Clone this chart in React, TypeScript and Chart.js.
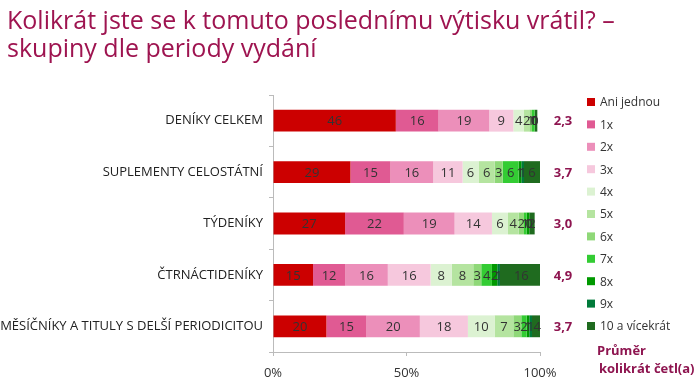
import React, { useEffect, useRef } from "react";
import { Chart, registerables } from "chart.js";

Chart.register(...registerables);

const titleLines = [
  "Kolikrát jste se k tomuto poslednímu výtisku vrátil? –",
  "skupiny dle periody vydání",
];

const categories = [
  "DENÍKY CELKEM",
  "SUPLEMENTY CELOSTÁTNÍ",
  "TÝDENÍKY",
  "ČTRNÁCTIDENÍKY",
  "MĚSÍČNÍKY A TITULY S DELŠÍ PERIODICITOU",
];

const seriesNames = ["Ani jednou", "1x", "2x", "3x", "4x", "5x", "6x", "7x", "8x", "9x", "10 a vícekrát"];
const seriesColors = [
  "#CC0000", "#E05A93", "#EC8FBA", "#F6C8DD", "#DCF2D2",
  "#B5E4A0", "#8FD878", "#33CC33", "#009900", "#007A3A", "#1F6B1F",
];

const aniJednou = [46, 29, 27, 15, 20];
const x1 = [16, 15, 22, 12, 15];
const x2 = [19, 16, 19, 16, 20];
const x3 = [9, 11, 14, 16, 18];
const x4 = [4, 6, 6, 8, 10];
const x5 = [2, 6, 4, 8, 7];
const x6 = [1, 3, 2, 3, 3];
const x7 = [1, 6, 1, 4, 2];
const x8 = [0, 1, 1, 2, 1];
const x9 = [0, 1, 0, 1, 1];
const x10plus = [1, 6, 2, 16, 4];
const averages = ["2,3", "3,7", "3,0", "4,9", "3,7"];
const xTicks = [0, 50, 100];

const seriesValues = [aniJednou, x1, x2, x3, x4, x5, x6, x7, x8, x9, x10plus];

const FONT = "'Open Sans', 'Noto Sans', sans-serif";
const ACCENT = "#9E1450";

const overlayPlugin = {
  id: "overlay",
  afterDatasetsDraw(chart: any) {
    const ctx = chart.ctx;
    const area = chart.chartArea;
    ctx.save();
    // segment labels
    ctx.font = `13px ${FONT}`;
    ctx.fillStyle = "#333";
    ctx.textAlign = "center";
    ctx.textBaseline = "middle";
    chart.data.datasets.forEach((ds: any, di: number) => {
      const meta = chart.getDatasetMeta(di);
      meta.data.forEach((bar: any, i: number) => {
        const { x, base, y } = bar.getProps(["x", "base", "y"], true);
        ctx.fillText(String(ds.data[i]), (x + base) / 2, y + 1);
      });
    });
    // x tick labels
    const xScale = chart.scales.x;
    ctx.fillStyle = "#333";
    xTicks.forEach((v) => {
      ctx.fillText(v + "%", xScale.getPixelForValue(v), area.bottom + 21);
    });
    // averages
    const yScale = chart.scales.y;
    ctx.font = `bold 13px ${FONT}`;
    ctx.fillStyle = "#8E1550";
    averages.forEach((a, i) => {
      ctx.fillText(a, area.right + 23, yScale.getPixelForValue(i) + 1);
    });
    // legend
    ctx.textAlign = "left";
    ctx.font = `12px ${FONT}`;
    chart.data.datasets.forEach((ds: any, di: number) => {
      const ly = 102 + di * 22.4;
      ctx.fillStyle = ds.backgroundColor;
      ctx.fillRect(587, ly - 4, 8, 8);
      ctx.fillStyle = "#333";
      ctx.fillText(ds.label, 600, ly + 1);
    });
    // average caption
    ctx.font = `bold 13px ${FONT}`;
    ctx.fillStyle = "#8E1550";
    ctx.fillText("Průměr", 597, 351);
    ctx.fillText("kolikrát četl(a)", 599, 369);
    // title
    ctx.font = `25px ${FONT}`;
    ctx.fillStyle = ACCENT;
    ctx.textBaseline = "alphabetic";
    ctx.fillText(titleLines[0], 7, 29);
    ctx.fillText(titleLines[1], 7, 57);
    ctx.restore();
  },
};

export default function App() {
  const ref = useRef<HTMLCanvasElement>(null);
  useEffect(() => {
    const chart = new Chart(ref.current!, {
      type: "bar",
      data: {
        labels: categories,
        datasets: seriesNames.map((name, i) => ({
          label: name,
          data: seriesValues[i],
          backgroundColor: seriesColors[i],
          borderWidth: 0,
          barPercentage: 0.85,
          categoryPercentage: 0.5,
        })),
      },
      options: {
        indexAxis: "y",
        animation: false,
        responsive: false,
        layout: { padding: { top: 95, right: 160, bottom: 0, left: 0 } },
        plugins: { legend: { display: false }, tooltip: { enabled: false }, title: { display: false } },
        scales: {
          x: {
            stacked: true,
            min: 0,
            max: 100,
            afterBuildTicks: (s: any) => {
              s.ticks = xTicks.map((v) => ({ value: v }));
            },
            afterFit: (s: any) => {
              s.height = 38;
            },
            ticks: { display: false },
            grid: { drawOnChartArea: false, drawTicks: true, tickLength: 4, color: "#bbb" },
            border: { display: true, color: "#bbb" },
          },
          y: {
            stacked: true,
            afterFit: (s: any) => {
              s.width = 273;
            },
            ticks: {
              color: "#222",
              font: { family: FONT, size: 13 },
              padding: 6,
            },
            grid: { drawOnChartArea: false, drawTicks: true, tickLength: 4, color: "#bbb", offset: true },
            border: { display: true, color: "#bbb" },
          },
        },
      },
      plugins: [overlayPlugin],
    } as any);
    return () => chart.destroy();
  }, []);
  return (
    <div style={{ position: "absolute", left: 0, top: 0, width: 700, height: 390, background: "#fff" }}>
      <canvas ref={ref} width={700} height={390} style={{ width: 700, height: 390 }} />
    </div>
  );
}
